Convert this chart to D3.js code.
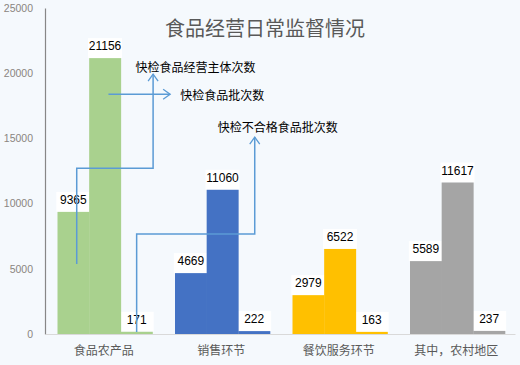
<!DOCTYPE html>
<html>
<head>
<meta charset="utf-8">
<script src="https://cdn.jsdelivr.net/npm/d3@7"></script>
<style>
	body { margin: 0; background: #f5f9fd; }
	svg { display: block; }
</style>
</head>
<body>
<div id="chart"></div>
<script>
// chart data
const categories = ["食品农产品", "销售环节", "餐饮服务环节", "其中，农村地区"];
const seriesNames = ["快检食品经营主体次数", "快检食品批次数", "快检不合格食品批次数"];
const inspectSubjects = [9365, 4669, 2979, 5589];
const inspectBatches = [21156, 11060, 6522, 11617];
const failedBatches = [171, 222, 163, 237];
const catColors = ["#a9d18e", "#4472c4", "#ffc000", "#a5a5a5"];
const yTicks = [0, 5000, 10000, 15000, 20000, 25000];

// callout arrows: points as [category, position inside band (0-1), value]
const callouts = [
	{ label: seriesNames[0], pts: [[0, 0.27, 5365], [0, 0.27, 12720], [0, 0.92, 12720], [0, 0.92, 19930]], dir: "up", text: [0, 0.77, 20540] },
	{ label: seriesNames[1], pts: [[0, 0.54, 18390], [1, 0.065, 18390]], dir: "right", text: [1, 0.15, 18390] },
	{ label: seriesNames[2], pts: [[0, 0.78, 150], [0, 0.78, 7660], [1, 0.785, 7660], [1, 0.785, 15100]], dir: "up", text: [1, 0.47, 15940] }
];

const W = 520, H = 365;
const margin = { top: 8, right: 5, bottom: 31, left: 45 };

let svg = d3.select("#chart").append("svg")
	.attr("width", W)
	.attr("height", H);

svg.append("rect").attr("width", W).attr("height", H).attr("fill", "#f5f9fd");

let x0 = d3.scaleBand()
	.domain(d3.range(categories.length))
	.range([margin.left, W - margin.right]);

let x1 = d3.scaleBand()
	.domain([0, 1, 2])
	.range([12.5, 107.5]);

let y = d3.scaleLinear()
	.domain([0, 25000])
	.range([H - margin.bottom, margin.top]);

let px = function (p) { return x0(p[0]) + p[1] * x0.bandwidth(); };

// title
svg.append("text")
	.attr("x", 265)
	.attr("y", 27)
	.attr("text-anchor", "middle")
	.attr("dominant-baseline", "central")
	.style("font-family", "'Noto Sans CJK SC', sans-serif")
	.style("font-size", "20px")
	.style("fill", "#595959")
	.text("食品经营日常监督情况");

// y axis
let yAxis = svg.append("g")
	.attr("transform", "translate(" + margin.left + ",0)")
	.call(d3.axisLeft(y).tickValues(yTicks).tickSize(0).tickPadding(12).tickFormat(d3.format("d")));
yAxis.select(".domain").attr("stroke", "#878787").attr("stroke-width", 1.2);
yAxis.selectAll("text")
	.style("font-family", "'Liberation Sans', Arial, sans-serif")
	.style("font-size", "10.5px")
	.style("fill", "#8a8580");

// x axis
let xAxis = svg.append("g")
	.attr("transform", "translate(0," + y(0) + ")")
	.call(d3.axisBottom(x0).tickSize(0).tickPadding(12).tickFormat(function (i) { return categories[i]; }));
xAxis.select(".domain").attr("stroke", "#d9d9d9");
xAxis.selectAll("text")
	.style("font-family", "'Noto Sans CJK SC', sans-serif")
	.style("font-size", "12px")
	.style("fill", "#595959");

// bars
let rows = categories.map(function (c, i) {
	return { cat: i, values: [inspectSubjects[i], inspectBatches[i], failedBatches[i]] };
});

let groups = svg.selectAll(".grp")
	.data(rows)
	.enter().append("g")
	.attr("class", "grp")
	.attr("transform", function (d) { return "translate(" + x0(d.cat) + ",0)"; });

let items = function (d) { return d.values.map(function (v, k) { return { k: k, v: v, cat: d.cat }; }); };

// white boxes behind value labels (under the bars)
groups.selectAll("rect.box")
	.data(items)
	.enter().append("rect")
	.attr("class", "box")
	.attr("x", function (d) { return x1(d.k) + x1.bandwidth() / 2 - 17; })
	.attr("y", function (d) { return y(d.v) - 20; })
	.attr("width", 34)
	.attr("height", 20)
	.style("fill", "#ffffff");

groups.selectAll("rect.bar")
	.data(items)
	.enter().append("rect")
	.attr("class", "bar")
	.attr("x", function (d) { return x1(d.k); })
	.attr("y", function (d) { return y(d.v); })
	.attr("width", x1.bandwidth() + 0.3)
	.attr("height", function (d) { return y(0) - y(d.v); })
	.style("fill", function (d) { return catColors[d.cat]; });

groups.selectAll("text.val")
	.data(items)
	.enter().append("text")
	.attr("class", "val")
	.attr("x", function (d) { return x1(d.k) + x1.bandwidth() / 2; })
	.attr("y", function (d) { return y(d.v) - 8; })
	.attr("text-anchor", "middle")
	.style("font-family", "'Liberation Sans', Arial, sans-serif")
	.style("font-size", "12px")
	.style("fill", "#000")
	.text(function (d) { return d.v; });

// callout lines
const lineColor = "#5b9bd5";
let line = d3.line()
	.x(function (p) { return px(p); })
	.y(function (p) { return y(p[2]); });

callouts.forEach(function (c) {
	svg.append("path")
		.attr("d", line(c.pts))
		.attr("fill", "none")
		.attr("stroke", lineColor)
		.attr("stroke-width", 1.5);

	let end = c.pts[c.pts.length - 1];
	let ex = px(end), ey = y(end[2]);
	let head = c.dir === "up"
		? [[ex - 5, ey + 7], [ex, ey], [ex + 5, ey + 7]]
		: [[ex - 7, ey - 5], [ex, ey], [ex - 7, ey + 5]];
	svg.append("path")
		.attr("d", d3.line()(head))
		.attr("fill", "none")
		.attr("stroke", lineColor)
		.attr("stroke-width", 1.3);

	svg.append("text")
		.attr("x", px(c.text))
		.attr("y", y(c.text[2]))
		.attr("dominant-baseline", "central")
		.style("font-family", "'Noto Sans CJK SC', sans-serif")
		.style("font-size", "12px")
		.style("fill", "#000")
		.text(c.label);
});
</script>
</body>
</html>
